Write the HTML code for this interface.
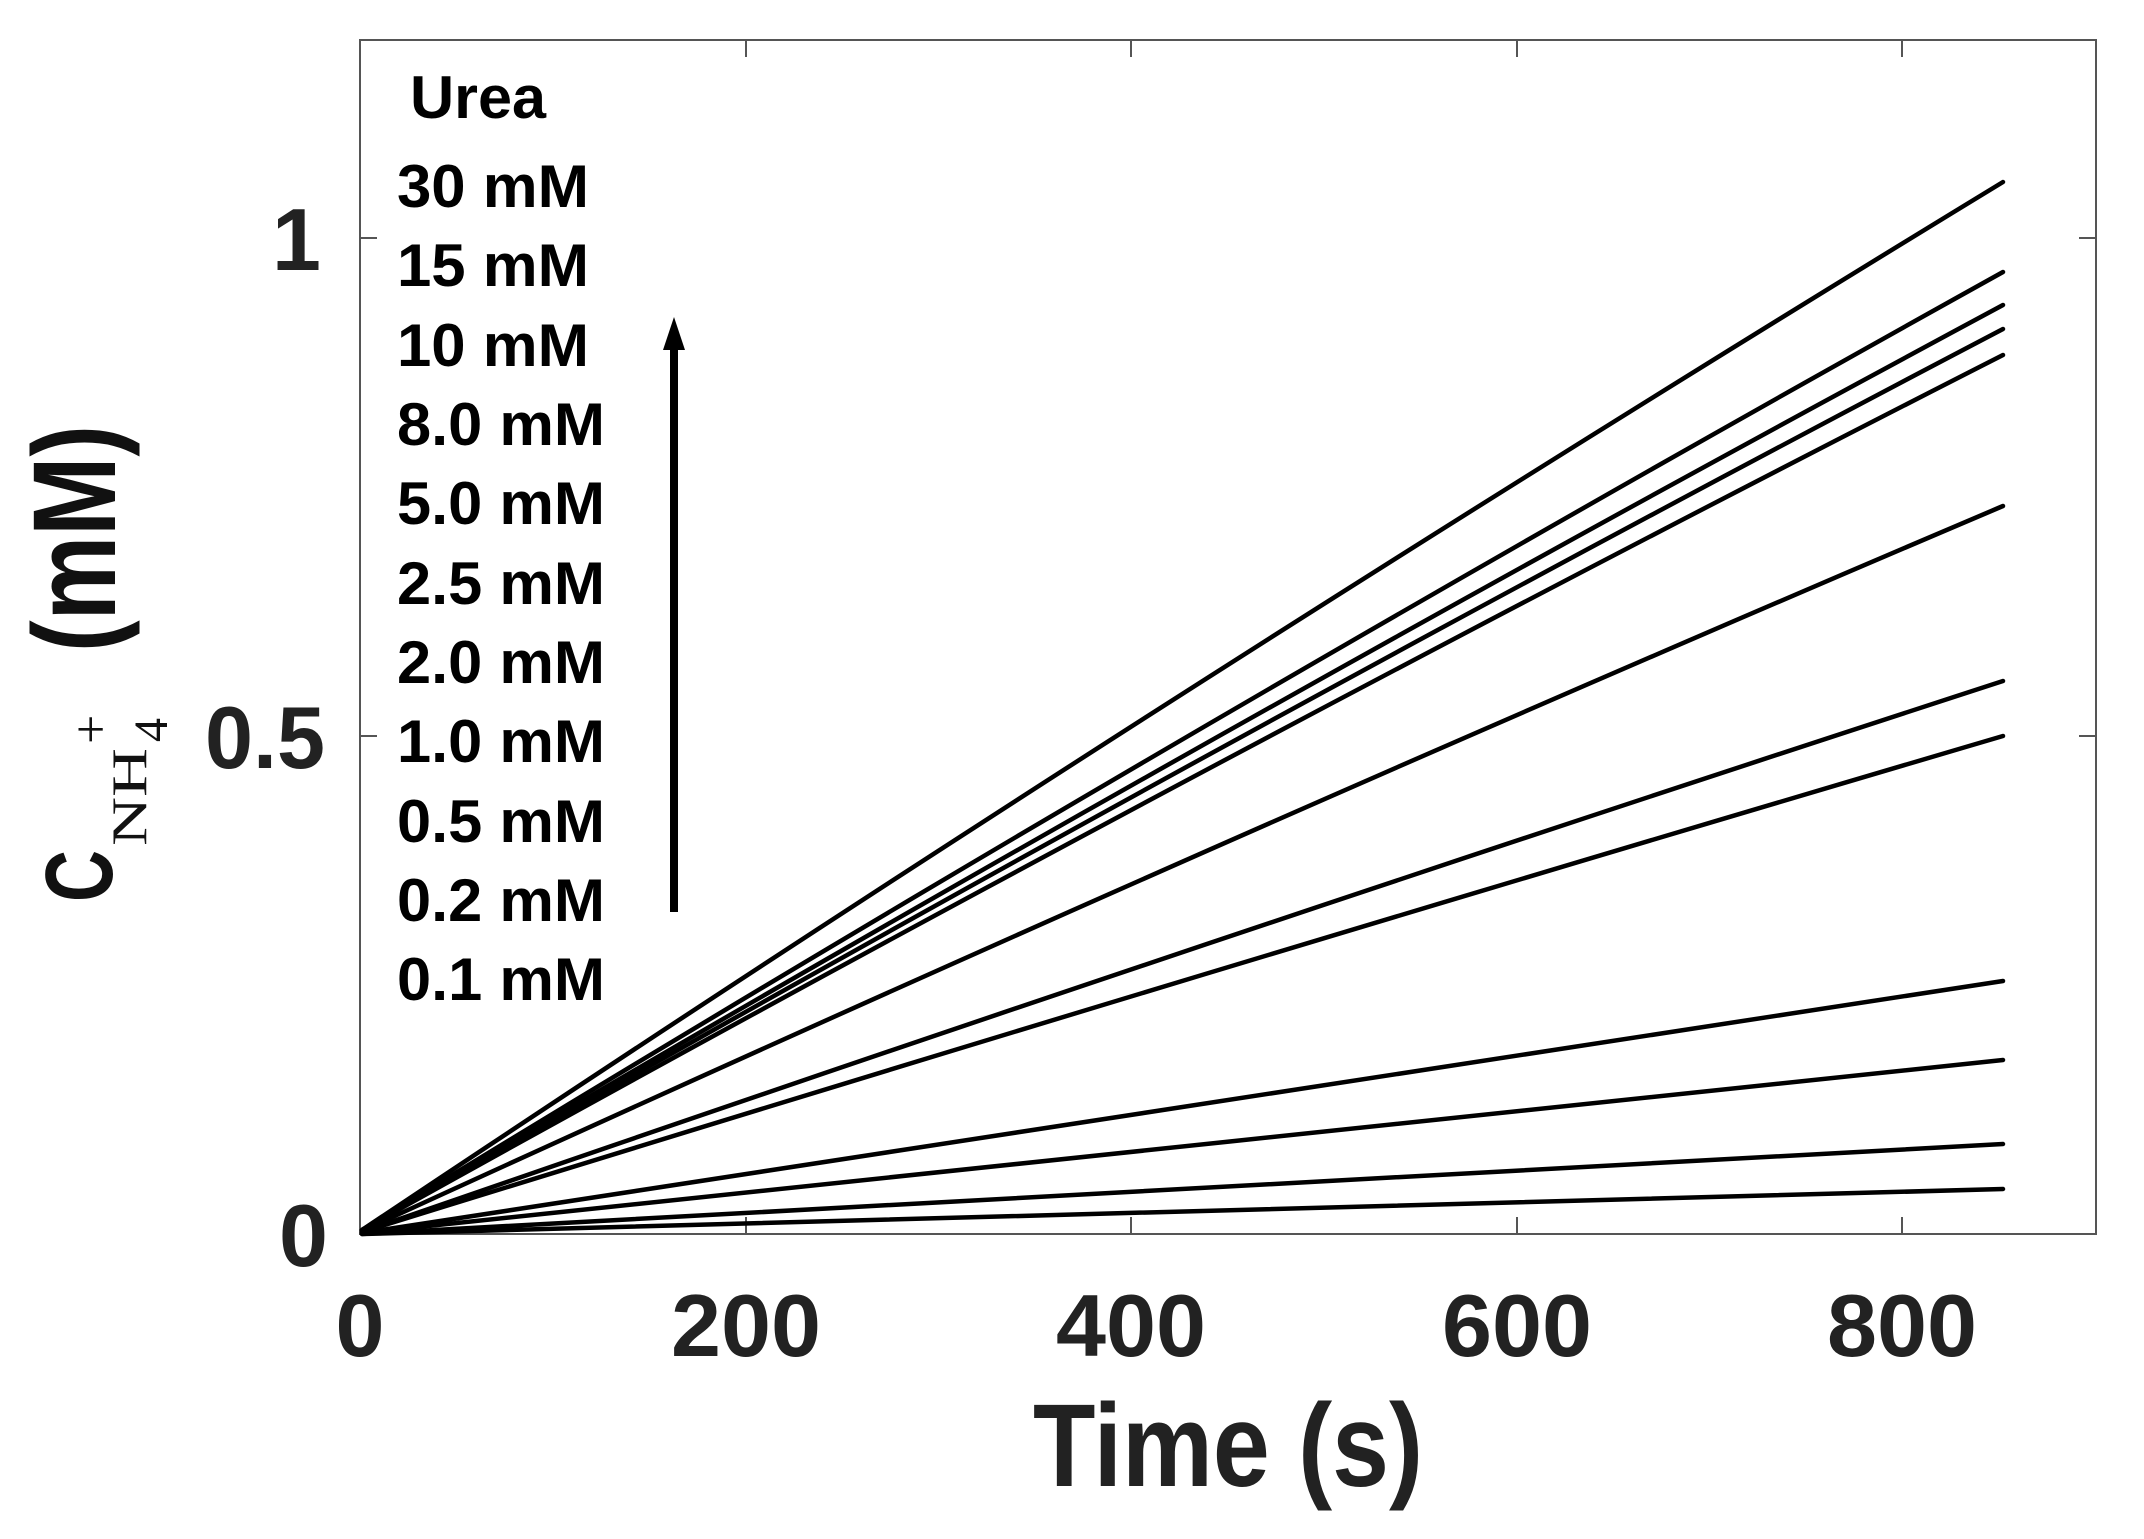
<!DOCTYPE html>
<html><head><meta charset="utf-8"><style>html,body{margin:0;padding:0;background:#fff}svg{display:block}</style></head>
<body>
<svg width="2144" height="1539" viewBox="0 0 2144 1539" xmlns="http://www.w3.org/2000/svg">
<rect width="2144" height="1539" fill="#fff"/>
<rect x="360" y="40" width="1736" height="1194" fill="none" stroke="#555" stroke-width="2"/>
<g stroke="#555" stroke-width="2">
<line x1="746" y1="1234" x2="746" y2="1217"/><line x1="1131" y1="1234" x2="1131" y2="1217"/><line x1="1517" y1="1234" x2="1517" y2="1217"/><line x1="1902" y1="1234" x2="1902" y2="1217"/>
<line x1="746" y1="40" x2="746" y2="57"/><line x1="1131" y1="40" x2="1131" y2="57"/><line x1="1517" y1="40" x2="1517" y2="57"/><line x1="1902" y1="40" x2="1902" y2="57"/>
<line x1="360" y1="736" x2="377" y2="736"/><line x1="360" y1="238" x2="377" y2="238"/>
<line x1="2096" y1="736" x2="2079" y2="736"/><line x1="2096" y1="238" x2="2079" y2="238"/>
</g>
<g font-family="Liberation Sans, sans-serif" font-weight="bold" font-size="88" fill="#222">
<text x="360" y="1356" text-anchor="middle">0</text>
<text x="746" y="1356" text-anchor="middle" textLength="150" lengthAdjust="spacingAndGlyphs">200</text>
<text x="1131" y="1356" text-anchor="middle" textLength="150" lengthAdjust="spacingAndGlyphs">400</text>
<text x="1517" y="1356" text-anchor="middle" textLength="150" lengthAdjust="spacingAndGlyphs">600</text>
<text x="1902" y="1356" text-anchor="middle" textLength="150" lengthAdjust="spacingAndGlyphs">800</text>
<text x="328" y="1266" text-anchor="end">0</text>
<text x="325" y="768" text-anchor="end" textLength="120" lengthAdjust="spacingAndGlyphs">0.5</text>
<text x="321" y="270" text-anchor="end">1</text>
</g>
<text x="1033" y="1486" font-family="Liberation Sans, sans-serif" font-weight="bold" font-size="118" fill="#222" textLength="390" lengthAdjust="spacingAndGlyphs">Time (s)</text>
<g transform="translate(112,902) rotate(-90)" fill="#111">
<text x="0" y="0" font-family="Liberation Sans, sans-serif" font-weight="bold" font-size="96" textLength="52" lengthAdjust="spacingAndGlyphs">C</text>
<text x="56" y="34" font-family="Liberation Serif, serif" font-size="50" textLength="98" lengthAdjust="spacingAndGlyphs">NH</text>
<text x="160" y="55" font-family="Liberation Serif, serif" font-size="48">4</text>
<text x="158" y="-4" font-family="Liberation Serif, serif" font-size="52">+</text>
<text x="250" y="3" font-family="Liberation Sans, sans-serif" font-weight="bold" font-size="118" textLength="227" lengthAdjust="spacingAndGlyphs">(mM)</text>
</g>
<g font-family="Liberation Sans, sans-serif" font-weight="bold" font-size="60" fill="#000">
<text x="410" y="118" textLength="136" lengthAdjust="spacingAndGlyphs">Urea</text>
<text x="397" y="207" textLength="192" lengthAdjust="spacingAndGlyphs">30 mM</text>
<text x="397" y="286" textLength="192" lengthAdjust="spacingAndGlyphs">15 mM</text>
<text x="397" y="366" textLength="192" lengthAdjust="spacingAndGlyphs">10 mM</text>
<text x="397" y="445" textLength="208" lengthAdjust="spacingAndGlyphs">8.0 mM</text>
<text x="397" y="524" textLength="208" lengthAdjust="spacingAndGlyphs">5.0 mM</text>
<text x="397" y="604" textLength="208" lengthAdjust="spacingAndGlyphs">2.5 mM</text>
<text x="397" y="683" textLength="208" lengthAdjust="spacingAndGlyphs">2.0 mM</text>
<text x="397" y="762" textLength="208" lengthAdjust="spacingAndGlyphs">1.0 mM</text>
<text x="397" y="842" textLength="208" lengthAdjust="spacingAndGlyphs">0.5 mM</text>
<text x="397" y="921" textLength="208" lengthAdjust="spacingAndGlyphs">0.2 mM</text>
<text x="397" y="1000" textLength="208" lengthAdjust="spacingAndGlyphs">0.1 mM</text>
</g>
<line x1="674" y1="912" x2="674" y2="345" stroke="#000" stroke-width="8"/>
<polygon points="674,317 663,350 685,350" fill="#000"/>
<g fill="none" stroke="#000" stroke-width="4.5" stroke-linecap="round">
<path d="M362,1230 Q1182,682 2003,182"/>
<path d="M362,1230 Q1182,728 2003,272"/>
<path d="M362,1230 Q1182,746 2003,305"/>
<path d="M362,1230 Q1182,759 2003,329"/>
<path d="M362,1230 Q1182,773 2003,355"/>
<path d="M362,1231 Q1182,855 2003,506"/>
<path d="M362,1232 Q1182,948 2003,681"/>
<path d="M362,1232 Q1182,978 2003,736"/>
<path d="M362,1233 L2003,981"/>
<path d="M362,1233 L2003,1060"/>
<path d="M362,1234 L2003,1144"/>
<path d="M362,1234 L2003,1189"/>
</g>
</svg>
</body></html>
